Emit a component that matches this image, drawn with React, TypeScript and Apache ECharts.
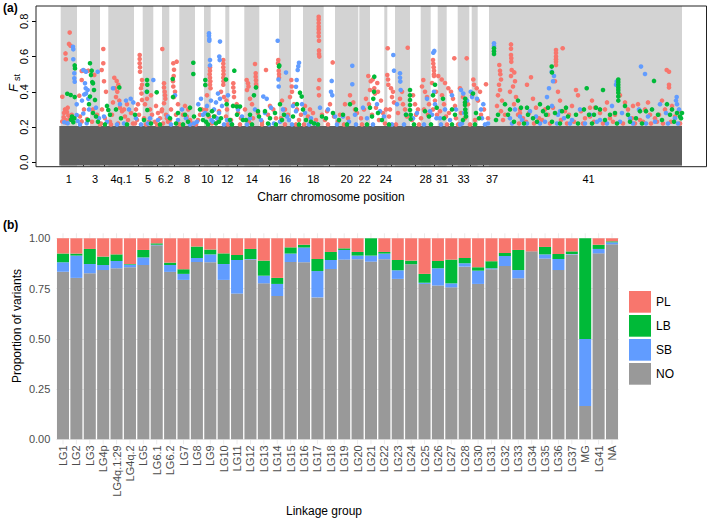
import React, { useEffect, useRef } from "react";
import * as echarts from "echarts";

const FONT = "Liberation Sans, Arial, Helvetica, sans-serif";

// ---------- Panel (a): Manhattan plot ----------
const chromNames = ["1","2","3","4p","4q.1","4q.2","5","6.1","6.2","7","8","9","10","11","12","13","14","15","16","17","18","19","20","21","22","23","24","25","26","27","28","30","31","32","33","34","35","36","37","MG","41"];
const chromEdges = [60.7, 77, 90, 100, 108.3, 134, 142.7, 153.3, 162, 169.3, 179.3, 195, 204, 210.7, 225.3, 229.3, 244.3, 259.3, 279, 291, 303, 323.7, 335, 358.3, 359.3, 370, 384.3, 387.3, 395, 410, 420.7, 430.7, 437.7, 446.7, 457.7, 469.3, 471.7, 477.7, 489, 495, 495, 682];
const shownChromLabels = ["1","3","4q.1","5","6.2","8","10","12","14","16","18","20","22","24","28","31","33","37","41"];
const fstTicks = [0, 0.2, 0.4, 0.6, 0.8];
// background (non-outlier) SNP mass: [xStart, xEnd, fstLow, fstHigh]
const grayMass = [[59.3, 682, -0.018, 0.206]];

const plPoints = [
  [69.7,.736],[69,.672],[70.5,.662],[65.5,.618],[65.8,.585],[62.3,.372],[65,.300],[67,.285],[68.3,.265],[63.7,.255],[65.7,.24],[69.7,.245],[67.7,.31],[62.3,.232],[71.7,.27],[64,.28],[66.5,.225],
  [81.7,.518],[85,.518],[81.7,.467],[79.3,.378],[81.7,.232],[88.3,.52],[84,.3],[80,.26],[87,.245],
  [94.3,.496],[93,.3],[97,.27],[92,.23],
  [103.3,.643],[103.3,.562],[101.7,.524],[104,.46],[106,.40],[102,.30],[105,.25],[101,.22],
  [114.3,.48],[116.7,.462],[118.3,.44],[115,.42],[117.3,.40],[116,.37],[119.3,.35],[113,.34],[120,.31],[122,.29],[112,.27],[125,.26],[128,.24],[131,.28],[110,.23],[118,.22],[124,.3],[127,.33],
  [139.7,.609],[139.7,.586],[139.7,.562],[140,.54],[140,.514],[142,.467],[142,.44],[141,.42],[141.5,.39],[142,.354],[138,.33],[136,.30],[139,.27],[137,.24],[135,.22],
  [145,.33],[147,.36],[150,.30],[152,.27],[144,.25],[149,.23],[151,.38],
  [156,.32],[158,.28],[160,.25],[155,.23],
  [162.3,.643],[164,.448],[164,.425],[164.7,.40],[165,.38],[165.3,.36],[164,.335],[162,.30],[166,.27],[167,.25],[168,.23],[163,.22],[161.7,.29],
  [173.3,.562],[176.7,.571],[174,.525],[173.7,.49],[173,.46],[173.3,.43],[175,.40],[174,.37],[178,.33],[171,.30],[176,.27],[170,.24],[177,.22],
  [188.3,.30],[186.7,.26],[190,.24],[183,.27],[192,.22],[185,.32],
  [200,.27],[198,.24],[202,.30],
  [210,.54],[210,.52],[209.7,.50],[210,.48],[210.3,.46],[210,.44],[210.5,.42],[207,.38],[206,.30],[209,.26],
  [223.3,.58],[223.3,.56],[223.3,.54],[223.5,.52],[223.5,.50],[223.3,.48],[223.5,.46],[223.3,.44],[221,.40],[224,.37],[215,.26],[219,.29],[218,.23],
  [226.5,.35],[227,.30],[226,.26],
  [233.3,.448],[233.3,.425],[234,.40],[234,.37],[236.7,.33],[238,.28],[241,.25],[231,.24],
  [246.7,.467],[248,.448],[248.5,.43],[247,.41],[255,.558],[255.7,.505],[255.7,.485],[256,.465],[256,.445],[256.3,.43],[250,.36],[252,.33],[245,.30],[258,.28],[253,.25],[249,.23],
  [266,.524],[273.3,.30],[268,.27],[276,.25],[262,.23],[270,.32],
  [278.3,.58],[278,.562],[278.7,.52],[279,.50],[279,.48],[282,.35],[285,.30],[288,.27],[281,.25],
  [291.3,.467],[291.7,.43],[292,.40],[290,.37],[294,.33],[297,.30],[301,.27],[299,.24],
  [318.7,.826],[318.7,.81],[318.7,.79],[318.7,.77],[318.7,.755],[318.7,.735],[318.7,.715],[319,.69],[319,.635],[319,.615],[319.3,.60],[319.3,.467],[318.5,.42],[319,.38],[310,.30],[313,.28],[308,.26],[316,.24],[305,.32],[322,.27],
  [332.7,.567],[330,.33],[327,.29],[334,.26],[325,.24],
  [350,.38],[353.3,.34],[355,.30],[345,.33],[340,.27],[348,.25],[357,.28],[338,.23],
  [368.3,.49],[370.7,.46],[372.7,.47],[374.3,.42],[370,.41],[375,.39],[366,.36],[369,.33],[364,.30],[372,.27],[361,.25],
  [377.3,.45],[378,.40],[381,.35],[376,.31],[383,.28],[379,.24],
  [387.7,.647],[387.3,.495],[388,.47],[388.3,.44],[386,.30],
  [391,.42],[393,.40],[392,.37],[394,.34],[390,.30],[389,.26],
  [407.7,.65],[400,.36],[403,.33],[405,.30],[398,.28],[407,.26],[402,.40],
  [413,.38],[415,.33],[418,.30],[416,.27],[412,.24],
  [423.3,.467],[422,.43],[425,.40],[427,.37],[429,.33],[424,.30],[428,.27],[421,.25],
  [433,.58],[433.3,.56],[433.7,.54],[434,.52],[434,.50],[434,.49],[432,.45],[436,.40],[435,.35],[433,.30],[437,.27],
  [438.3,.49],[441.7,.47],[445,.45],[448.3,.42],[442,.38],[444,.33],[440,.29],[446,.26],
  [454.3,.59],[451,.40],[453,.36],[455,.32],[449,.28],[456,.25],
  [466.7,.59],[460,.42],[463,.37],[468,.33],[461,.28],[465,.25],
  [473.3,.47],[474,.44],[476.7,.42],[480,.40],[472,.38],[478,.35],[486,.443],[484,.30],[481,.27],[475,.24],[488,.25],
  [499.3,.552],[500,.52],[500.3,.50],[501,.47],[499,.44],[500,.41],[498,.38],[502,.35],[497,.32],[501,.29],[505,.27],[503,.24],
  [511,.669],[511,.645],[511,.609],[511.3,.59],[511.3,.57],[511.7,.524],[514.3,.51],[511,.49],[515,.46],[513,.43],[510,.40],[516,.37],[514,.33],[520,.30],[518,.27],[523,.25],
  [531,.482],[527,.44],[533,.36],[536,.31],[529,.28],[539,.25],
  [556,.637],[556,.62],[556,.60],[556,.585],[556,.57],[556,.552],[562.7,.647],[555,.46],[558,.40],[560,.35],[553,.31],[565,.29],[548,.27],[561,.24],
  [576,.41],[578,.38],[572,.32],[581,.29],[569,.27],[585,.25],
  [592,.35],[595,.31],[600,.28],[590,.26],[605,.30],[610,.25],
  [620,.38],[625,.34],[628,.30],[615,.27],[632,.25],
  [638,.33],[645,.30],[650,.27],[640,.24],
  [666.7,.524],[669,.514],[669,.44],[669,.425],[662,.35],[665,.30],[672,.32],[659,.27],[675,.26],[655,.25],[679,.29],
  [519,.22],[526,.23],[534,.22],[542,.24],[550,.22],[567,.22],[574,.23],[583,.22],[594,.23],[603,.22],[613,.23],[623,.22],[635,.22],[643,.23],[651,.22],[657,.23],[663,.22],[671,.23],[680,.22],[520,.28],[545,.30],[590,.31],[607,.34],[633,.32],[648,.34],
  [100,.215],[111,.215],[133,.22],[146,.215],[157,.215],[180,.215],[196,.215],[212,.22],[228,.215],[240,.215],[262,.215],[285,.215],[296,.215],[304,.215],[328,.215],[344,.215],[362,.215],[385,.22],[396,.215],[419,.215],[447,.215],[458,.215],[470,.215]
];

const sbPoints = [
  [73,.656],[73.3,.641],[73.3,.585],[74.3,.505],[74.3,.477],[74.7,.457],[76.7,.329],[67.7,.222],[64.3,.227],[76.7,.268],[77.7,.235],
  [83.3,.524],[86,.514],[85,.448],[85.7,.42],[87.7,.41],[84.3,.385],[88.3,.36],[86,.39],[83.3,.277],[86.7,.222],[89,.30],[82,.35],
  [97.7,.514],[96,.31],[99,.25],
  [104,.26],[107,.23],
  [113,.42],[120,.33],[126,.35],[130.7,.36],[133.3,.34],[129,.30],[124,.22],
  [136,.25],
  [146.7,.40],[153.3,.467],[150,.25],[148,.22],
  [158,.24],[168,.26],
  [175,.38],[178,.24],
  [182,.30],[186,.25],[194,.22],
  [198.3,.33],[201,.36],[203,.27],[197,.23],
  [209,.732],[209,.718],[209.3,.70],[209.3,.69],[210,.58],[210,.55],[211,.35],[207,.32],[205,.28],[211.5,.24],
  [220,.685],[219.3,.60],[219.7,.58],[218,.39],[220,.36],[216,.34],[222,.32],[214,.30],[219,.28],[217,.25],[213,.23],
  [228,.38],[227,.24],
  [238,.30],[242,.26],[231,.22],
  [255,.30],[250,.25],
  [263.3,.373],[266.7,.36],[271,.31],[265,.28],[261,.24],[274,.22],
  [277.7,.69],[278.5,.47],[278.7,.43],[283,.30],[287,.26],[280,.23],
  [286,.509],[293,.32],[296,.29],[289,.24],
  [299,.565],[298.3,.545],[297.7,.524],[296.7,.467],[296,.429],[302,.33],[305,.28],[311,.25],[320,.31],[315,.22],
  [331.7,.462],[331,.40],[332.3,.38],[328,.30],[335,.26],
  [352.3,.548],[352.3,.443],[343,.26],[355,.27],[349,.23],
  [363,.31],[367,.25],
  [377,.33],[380,.29],[384,.26],
  [393.3,.609],[394,.52],
  [400,.505],[400,.48],[400.3,.458],[400.7,.41],[397,.33],[406,.27],
  [417,.28],[413,.25],
  [427,.36],[430,.29],
  [434.3,.632],[433.3,.622],[434,.40],[435,.33],[432,.27],[436.5,.25],
  [445,.30],[440,.25],
  [452,.38],[456,.30],[450,.24],
  [461,.41],[463.3,.39],[467,.35],[464,.28],[462,.22],
  [470.7,.40],[472,.37],[477,.36],[481,.30],[483.3,.33],[482,.25],[488,.22],
  [494,.675],[494,.66],
  [515,.30],[520,.26],[522,.24],[530,.29],[536,.26],[545,.23],[551.7,.514],[554,.49],[553,.46],[549,.42],[547,.37],[552,.32],[558,.27],[564,.25],[572,.24],[580,.30],[590,.27],[600,.24],[616.7,.458],[616,.44],[612,.32],[622,.28],[630,.25],[641,.543],[645,.501],[639,.30],[648,.26],[660,.33],[666,.28],[676,.35],[676.7,.37],[677,.33],[679,.30],[675,.25],
  [512,.22],[527,.22],[540,.22],[557,.22],[570,.22],[585,.22],[597,.23],[607,.22],[620,.23],[633,.22],[646,.22],[655,.23],[668,.22],[678,.22],[510,.25],[560,.29],
  [80,.215],[117,.215],[141,.215],[171,.215],[190,.215],[224,.215],[247,.215],[269,.215],[292,.215],[309,.215],[337,.215],[356,.215],[373,.215],[392,.215],[404,.215],[424,.215],[441,.215],[460,.215],[485,.215]
];

const lbPoints = [
  [74.7,.55],[75,.533],[67.3,.389],[70.7,.382],[74.7,.37],[71,.242],[73.3,.227],[74.3,.25],[72,.26],
  [90,.562],[91.7,.52],[91,.496],[92.3,.455],[93,.448],[94,.41],[90,.373],[95,.354],[89,.33],[93,.28],[96,.26],[88,.24],[98,.23],
  [108.3,.297],[107,.32],[119.3,.425],[116,.30],[121,.25],[110,.27],
  [135,.27],
  [147,.467],[147.3,.44],[147,.40],[147.3,.297],[156.7,.397],[144,.24],[151,.22],
  [172.7,.473],[173,.37],[178,.28],[170,.25],[176,.22],
  [193.3,.565],[193.3,.501],[190,.31],[185,.27],[188,.23],[194,.26],
  [200,.30],[203,.24],
  [205.3,.467],[205.3,.439],[208,.27],[206,.23],
  [212,.29],[214,.26],[219,.23],[221,.25],[216,.22],
  [226,.47],[226.7,.33],[234.3,.52],[233,.32],[236.7,.316],[240,.316],[237,.27],[243,.24],[230,.24],
  [256,.425],[254,.38],[258,.29],[250,.27],[246,.24],[259,.26],
  [265,.29],[270,.25],[275,.28],[268,.22],
  [279,.543],[279.3,.55],[280,.33],[284,.27],[282,.24],
  [300,.395],[301.7,.373],[297,.33],[293,.26],[303,.30],
  [311,.23],[306,.24],[314,.22],[322,.26],
  [326,.25],[333,.28],
  [343,.27],[350,.33],[356,.30],[339,.24],
  [374.3,.486],[374,.40],[373.3,.36],[370,.31],[372,.26],
  [378,.28],[382,.24],
  [410,.41],[410,.38],[410,.354],[410,.325],[410,.297],[410.7,.27],[410.7,.245],[406,.27],
  [425,.29],[429,.26],
  [435,.44],[433,.38],[436.7,.31],
  [443,.36],[444,.25],
  [452,.30],[455,.27],
  [465.3,.36],[465,.34],[465,.325],[465.3,.30],[465.7,.28],[466,.26],[463,.24],
  [473,.39],[476,.28],[479,.25],
  [494,.647],[494,.63],[494,.615],[498,.27],[496,.24],
  [505,.33],[510,.30],[518,.35],[521,.31],[528,.27],[533,.25],[540,.33],[543,.29],[546,.27],[551.7,.543],[552,.51],[548,.31],[555,.28],[562,.29],[568,.26],[576,.27],[586.7,.42],[584,.30],[589,.27],[596,.31],[603,.41],[600,.30],[610,.27],
  [618.3,.47],[618.3,.455],[618.3,.44],[618.3,.425],[618.3,.41],[618.3,.395],[618.3,.373],[618.3,.35],[615,.28],[625,.32],[628,.27],[636,.25],[646,.29],[654,.462],[652,.30],[658,.27],[667,.33],[670,.27],[677,.28],[680,.26],[682,.28],[681,.25],
  [514,.23],[524,.22],[537,.23],[552,.23],[560,.22],[578,.22],[592,.22],[605,.24],[617,.22],[630,.23],[642,.22],[662,.24],[674,.23],[508,.27],[527,.31],[566,.31],[594,.27],[640,.29],[672,.30],
  [105,.215],[127,.215],[160,.215],[183,.215],[208,.215],[232,.215],[252,.215],[276,.215],[299,.215],[318,.215],[347,.215],[367,.215],[389,.215],[414,.215],[431,.215],[452,.215],[475,.215]
];

// ---------- Panel (b): stacked proportions ----------
const linkageGroups = ["LG1","LG2","LG3","LG4p","LG4q.1:29","LG4q.2","LG5","LG6.1","LG6.2","LG7","LG8","LG9","LG10","LG11","LG12","LG13","LG14","LG15","LG16","LG17","LG18","LG19","LG20","LG21","LG22","LG23","LG24","LG25","LG26","LG27","LG28","LG30","LG31","LG32","LG33","LG34","LG35","LG36","LG37","MG","LG41","NA"];
const noVals = [.834,.803,.826,.842,.851,.856,.867,.965,.833,.793,.882,.881,.793,.725,.894,.776,.713,.882,.881,.706,.847,.894,.896,.884,.896,.798,.871,.773,.765,.756,.859,.773,.846,.862,.801,.935,.899,.842,.920,.166,.925,.970];
const sbVals = [.047,.111,.046,.025,.036,.013,.038,.003,.034,.030,.020,.039,.079,.167,.003,.038,.060,.042,.073,.131,.045,.048,.018,.030,.028,.043,0,.006,.086,.020,.017,.066,.005,.050,.041,0,.021,.055,.002,.333,.022,.010];
const lbVals = [.044,.010,.075,.042,.033,.003,.037,.007,.012,.023,.057,.024,.053,.025,.050,.075,.030,.031,.014,.060,.040,.008,.018,.086,.008,.051,.018,.044,.036,.118,.026,.017,.035,.015,.100,0,.037,.025,.013,.501,.021,.005];
const plVals = [.075,.076,.053,.091,.080,.128,.058,.025,.121,.154,.041,.056,.075,.083,.053,.111,.197,.045,.032,.103,.068,.050,.068,0,.068,.108,.111,.177,.113,.106,.098,.144,.114,.073,.058,.065,.043,.078,.065,0,.032,.015];
const propTicks = [0, 0.25, 0.5, 0.75, 1];

const COL_PL = "#F8766D";
const COL_LB = "#00BA38";
const COL_SB = "#619CFF";
const COL_NO = "#999999";

const A_XMIN = 36, A_XMAX = 706.5, A_YMIN = -0.025, A_YMAX = 0.887;

export default function App() {
  const ref = useRef<HTMLDivElement>(null);
  useEffect(() => {
    document.body.style.margin = "0";
    const chart = echarts.init(ref.current!, null, { renderer: "svg" });

    const mids: number[] = [];
    const labelMap: Record<string, string> = {};
    const labelMids: number[] = [];
    const bandData: number[][] = [];
    chromNames.forEach((n, i) => {
      const m = (chromEdges[i] + chromEdges[i + 1]) / 2;
      if (n !== "MG") mids.push(m);
      if (shownChromLabels.includes(n)) {
        labelMids.push(m);
        labelMap[m.toFixed(2)] = n;
      }
      if (i % 2 === 0) bandData.push([chromEdges[i], chromEdges[i + 1]]);
    });

    const option: any = {
      animation: false,
      textStyle: { fontFamily: FONT },
      grid: [
        { left: 36, top: 6, width: 670.5, height: 160.7 },
        { left: 56.3, top: 238.3, width: 562.4, height: 201 },
      ],
      xAxis: [
        {
          type: "value", gridIndex: 0, min: A_XMIN, max: A_XMAX,
          axisLine: { show: false },
          splitLine: { show: false },
          axisTick: { show: true, customValues: mids, length: 4, lineStyle: { color: "#000" } },
          axisLabel: {
            customValues: labelMids, margin: 7, fontSize: 11, color: "#000", fontFamily: FONT,
            formatter: (v: number) => labelMap[v.toFixed(2)] ?? "",
          },
        },
        {
          type: "category", gridIndex: 1, data: linkageGroups,
          axisLine: { show: false }, axisTick: { show: false },
          axisLabel: { rotate: 90, interval: 0, fontSize: 11, color: "#4D4D4D", margin: 6, fontFamily: FONT },
        },
      ],
      yAxis: [
        {
          type: "value", gridIndex: 0, min: A_YMIN, max: A_YMAX,
          axisLine: { show: false }, splitLine: { show: false },
          axisTick: { show: true, customValues: fstTicks, length: 4, lineStyle: { color: "#000" } },
          axisLabel: {
            customValues: fstTicks, rotate: 90, margin: 7, fontSize: 11, color: "#000", fontFamily: FONT,
            formatter: (v: number) => v.toFixed(1),
          },
        },
        {
          type: "value", gridIndex: 1, min: 0, max: 1, interval: 0.25,
          axisLine: { show: false }, axisTick: { show: false },
          splitLine: { show: true, lineStyle: { color: "#EBEBEB", width: 1 } },
          axisLabel: {
            customValues: propTicks, fontSize: 11, color: "#4D4D4D", margin: 6, fontFamily: FONT,
            formatter: (v: number) => v.toFixed(2),
          },
        },
      ],
      legend: {
        data: ["PL", "LB", "SB", "NO"], orient: "vertical", left: 629, top: 291,
        itemWidth: 22, itemHeight: 21.7, itemGap: 2.3, icon: "rect", padding: 0,
        selectedMode: false,
        textStyle: { fontSize: 12, color: "#000", fontFamily: FONT },
      },
      series: [
        {
          type: "custom", name: "bands", xAxisIndex: 0, yAxisIndex: 0, z: 1, silent: true,
          data: bandData,
          renderItem: (_p: any, api: any) => {
            const p0 = api.coord([api.value(0), A_YMAX]);
            const p1 = api.coord([api.value(1), A_YMIN]);
            return { type: "rect", shape: { x: p0[0], y: p0[1], width: p1[0] - p0[0], height: p1[1] - p0[1] }, style: { fill: "#D3D3D3" } };
          },
        },
        {
          type: "custom", name: "background SNPs", xAxisIndex: 0, yAxisIndex: 0, z: 2, silent: true,
          data: grayMass,
          renderItem: (_p: any, api: any) => {
            const p0 = api.coord([api.value(0), api.value(3)]);
            const p1 = api.coord([api.value(1), api.value(2)]);
            return { type: "rect", shape: { x: p0[0], y: p0[1], width: p1[0] - p0[0], height: p1[1] - p0[1] }, style: { fill: "#5E5E5E" } };
          },
        },
        { type: "scatter", name: "PL outliers", xAxisIndex: 0, yAxisIndex: 0, z: 3, symbolSize: 4.6, itemStyle: { color: COL_PL, opacity: 1 }, data: plPoints },
        { type: "scatter", name: "SB outliers", xAxisIndex: 0, yAxisIndex: 0, z: 4, symbolSize: 4.6, itemStyle: { color: COL_SB, opacity: 1 }, data: sbPoints },
        { type: "scatter", name: "LB outliers", xAxisIndex: 0, yAxisIndex: 0, z: 5, symbolSize: 4.6, itemStyle: { color: COL_LB, opacity: 1 }, data: lbPoints },
        {
          type: "custom", name: "vgrid", xAxisIndex: 1, yAxisIndex: 1, z: 1, silent: true,
          data: linkageGroups.map((_, i) => [i, 0]),
          renderItem: (_p: any, api: any) => {
            const p0 = api.coord([api.value(0), 1.025]);
            const p1 = api.coord([api.value(0), -0.025]);
            return { type: "line", shape: { x1: p0[0], y1: p0[1], x2: p1[0], y2: p1[1] }, style: { stroke: "#EBEBEB", lineWidth: 1 } };
          },
        },
        { type: "bar", name: "NO", stack: "p", xAxisIndex: 1, yAxisIndex: 1, barWidth: "90%", z: 3, itemStyle: { color: COL_NO }, data: noVals },
        { type: "bar", name: "SB", stack: "p", xAxisIndex: 1, yAxisIndex: 1, barWidth: "90%", z: 3, itemStyle: { color: COL_SB }, data: sbVals },
        { type: "bar", name: "LB", stack: "p", xAxisIndex: 1, yAxisIndex: 1, barWidth: "90%", z: 3, itemStyle: { color: COL_LB }, data: lbVals },
        { type: "bar", name: "PL", stack: "p", xAxisIndex: 1, yAxisIndex: 1, barWidth: "90%", z: 3, itemStyle: { color: COL_PL }, data: plVals },
      ],
      graphic: [
        { type: "rect", z: 100, silent: true, shape: { x: 36, y: 6, width: 670.5, height: 160.7 }, style: { fill: "none", stroke: "#222", lineWidth: 1 } },
        { type: "text", left: 3, top: 2, style: { text: "(a)", font: `bold 12px ${FONT}`, fill: "#000" } },
        { type: "text", left: 3, top: 219, style: { text: "(b)", font: `bold 12px ${FONT}`, fill: "#000" } },
        { type: "text", x: 13, y: 88, rotation: Math.PI / 2, style: { text: "F", font: `italic 13px ${FONT}`, fill: "#000", align: "center", verticalAlign: "middle" } },
        { type: "text", x: 16.5, y: 77.5, rotation: Math.PI / 2, style: { text: "st", font: `9px ${FONT}`, fill: "#000", align: "center", verticalAlign: "middle" } },
        { type: "text", x: 331, y: 197, style: { text: "Charr chromosome position", font: `12px ${FONT}`, fill: "#000", align: "center", verticalAlign: "middle" } },
        { type: "text", x: 17, y: 326, rotation: Math.PI / 2, style: { text: "Proportion of variants", font: `12px ${FONT}`, fill: "#000", align: "center", verticalAlign: "middle" } },
        { type: "text", x: 324, y: 511, style: { text: "Linkage group", font: `12px ${FONT}`, fill: "#000", align: "center", verticalAlign: "middle" } },
      ],
    };
    chart.setOption(option);
    return () => chart.dispose();
  }, []);
  return <div ref={ref} style={{ width: 709, height: 519 }} />;
}
